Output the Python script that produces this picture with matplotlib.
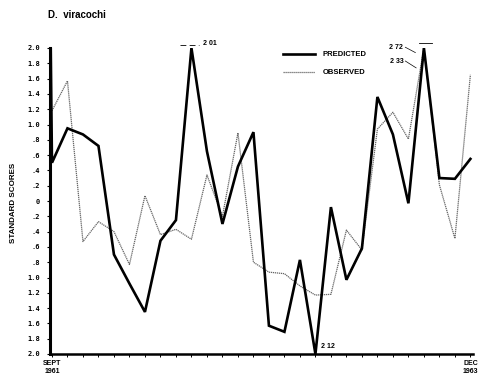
import numpy as np
import matplotlib
matplotlib.use("Agg")
import matplotlib.pyplot as plt

# months Sept 1961 .. Dec 1963 (28 monthly values)
months = list(range(28))
predicted = [0.50, 0.95, 0.87, 0.72, -0.70, -1.08, -1.45, -0.52, -0.25, 2.01,
             0.65, -0.30, 0.45, 0.90, -1.63, -1.71, -0.77, -2.12, -0.08, -1.03,
             -0.62, 1.36, 0.87, -0.03, 2.72, 0.30, 0.29, 0.55]
observed = [1.18, 1.57, -0.53, -0.27, -0.40, -0.83, 0.07, -0.44, -0.37, -0.50,
            0.34, -0.20, 0.89, -0.80, -0.93, -0.95, -1.11, -1.23, -1.22, -0.38,
            -0.64, 0.94, 1.16, 0.81, 2.33, 0.21, -0.49, 1.65]
# predicted curve enters from off the top of the scale at the start
pred_lead_x = -0.08
pred_lead_y = 2.0

yticks = [-2.0, -1.8, -1.6, -1.4, -1.2, -1.0, -0.8, -0.6, -0.4, -0.2, 0,
          0.2, 0.4, 0.6, 0.8, 1.0, 1.2, 1.4, 1.6, 1.8, 2.0]

lbl_font = "Liberation Sans"


def fmt(v):
    v = abs(v)
    if v == 0:
        return "0"
    s = "%.1f" % v
    return s[1:] if s.startswith("0") else s


fig = plt.figure(figsize=(4.85, 3.75), dpi=100)
ax = fig.add_axes([0.103, 0.056, 0.872, 0.816])

# clip off-scale values to the frame, as drawn in the original
px = [pred_lead_x] + months
py = np.clip([pred_lead_y] + predicted, -2.0, 2.0)
oy = np.clip(observed, -2.0, 2.0)

ax.plot(months, oy, color="#666666", lw=0.9, ls=(0, (1, 0.6)),
        label="OBSERVED", zorder=2)
ax.plot(px, py, color="black", lw=1.9, solid_joinstyle="miter",
        label="PREDICTED", zorder=3)

ax.set_xlim(-0.13, 27.16)
ax.set_ylim(-2.0, 2.0)

for s in ["top", "right"]:
    ax.spines[s].set_visible(False)
ax.spines["left"].set_linewidth(2.2)
ax.spines["bottom"].set_linewidth(1.8)

ax.set_yticks(yticks)
ax.set_yticklabels([fmt(v) for v in yticks], family="DejaVu Sans Mono",
                   fontweight="bold", fontsize=5)
ax.tick_params(axis="y", direction="out", length=2, width=0.8, pad=5)

xlabels = [""] * len(months)
xlabels[0] = "SEPT\n1961"
xlabels[-1] = "DEC\n1963"
ax.set_xticks(months)
ax.set_xticklabels(xlabels, family=lbl_font, fontweight="bold", fontsize=5,
                   linespacing=1.1)
ax.tick_params(axis="x", direction="out", length=2.5, width=0.7, pad=2)

fig.text(0.028, 0.459, "STANDARD SCORES", rotation=90, ha="center",
         va="center", family=lbl_font, fontweight="bold", fontsize=5.8)
fig.text(0.099, 0.96, "D.  viracochi", ha="left", va="center",
         family=lbl_font, fontweight="bold", fontsize=7)

handles, labels = ax.get_legend_handles_labels()
leg = ax.legend(handles[::-1], labels[::-1], loc="upper left",
                bbox_to_anchor=(0.55, 0.99), frameon=False,
                prop={"family": lbl_font, "weight": "bold", "size": 5.5},
                handlelength=4.3, handletextpad=0.9, labelspacing=1.4,
                borderaxespad=0, borderpad=0)

# off-scale value notes
i9 = predicted.index(2.01)
ax.plot([i9 - 0.75, i9 + 0.5], [2.04, 2.04], color="black", lw=0.6,
        ls=(0, (7, 4)), clip_on=False)
ax.text(i9 + 0.75, 2.06, "2 01", fontsize=5, family=lbl_font,
        fontweight="bold", va="center", ha="left")

i24 = predicted.index(2.72)
ax.plot([i24 - 0.3, i24 + 0.5], [2.07, 2.07], color="black", lw=0.6,
        clip_on=False)
ax.text(i24 - 2.25, 2.01, "2 72", fontsize=5, family=lbl_font,
        fontweight="bold", va="center", ha="left")
ax.plot([i24 - 1.2, i24 - 0.55], [2.01, 1.94], color="black", lw=0.5,
        clip_on=False)
ax.text(i24 - 2.2, 1.83, "2 33", fontsize=5, family=lbl_font,
        fontweight="bold", va="center", ha="left")
ax.plot([i24 - 1.2, i24 - 0.5], [1.83, 1.74], color="black", lw=0.5,
        clip_on=False)

i17 = predicted.index(-2.12)
ax.text(i17 + 0.35, -1.9, "2 12", fontsize=5, family=lbl_font,
        fontweight="bold", va="center", ha="left")

fig.savefig("out.png", dpi=100)
